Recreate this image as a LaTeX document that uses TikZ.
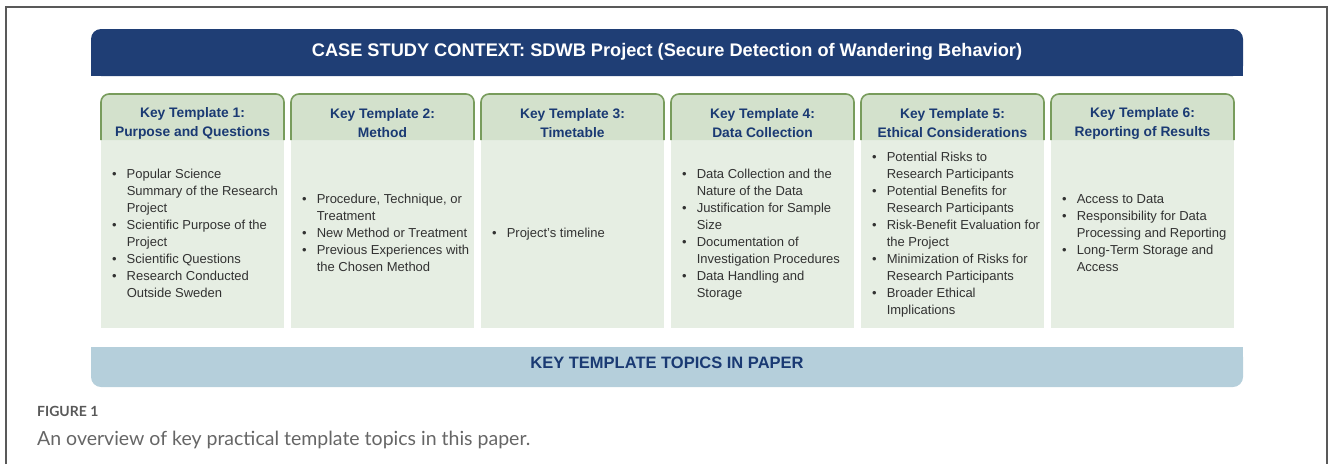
\documentclass[tikz,border=0pt]{standalone}
\usepackage{fontspec}
\setmainfont{Liberation Sans}
\newfontfamily\capfont{Lato}
\usepackage{tikz}

\definecolor{navy}{RGB}{31,62,117}
\definecolor{hdtext}{RGB}{26,58,115}
\definecolor{hdfill}{RGB}{211,225,204}
\definecolor{hdline}{RGB}{120,156,92}
\definecolor{bodyfill}{RGB}{230,238,227}
\definecolor{bandfill}{RGB}{181,207,219}
\definecolor{bodytext}{RGB}{50,50,50}

\newcommand{\pts}[1]{\begin{tabular}{@{}l@{\hspace{10pt}}l@{}}#1\end{tabular}}

\begin{document}
\begin{tikzpicture}[x=1pt,y=-1pt]
  \tikzstyle{title}=[text=white,font=\fontsize{18.2}{22}\selectfont\bfseries,anchor=base]
  \tikzstyle{band}=[text=hdtext,font=\fontsize{16.5}{20}\selectfont\bfseries,anchor=base]
  \tikzstyle{head}=[text=hdtext,align=center,font=\fontsize{13.8}{19}\selectfont\bfseries]
  \tikzstyle{items}=[text=bodytext,anchor=west,inner sep=0pt,font=\fontsize{13}{17}\selectfont]
  \useasboundingbox (0,0) rectangle (1330,464);
  % frame
  \draw[black!65,line width=1.3pt] (6,464) -- (6,7) -- (1327,7) -- (1327,464);
  % top banner
  \fill[navy,rounded corners=10pt] (91,29) rectangle (1243,76);
  \fill[navy] (91,55) rectangle (1243,76);
  \node[title] (ctx) at (667,56) {CASE STUDY CONTEXT: SDWB Project (Secure Detection of Wandering Behavior)};
  % columns
  \foreach \i in {0,...,5} {
    \fill[bodyfill] (101+190*\i,140) rectangle (284+190*\i,328);
    \draw[hdline,fill=hdfill,line width=1.6pt,rounded corners=8pt]
      (101+190*\i,140) -- (101+190*\i,94) -- (284+190*\i,94) -- (284+190*\i,140);
  }
  \node[head] (h1) at (192.5,123.5) {Key Template 1:\\Purpose and Questions};
  \node[head] (h2) at (382.5,123.5) {Key Template 2:\\Method};
  \node[head] (h3) at (572.5,123.5) {Key Template 3:\\Timetable};
  \node[head] (h4) at (762.5,123.5) {Key Template 4:\\Data Collection};
  \node[head] (h5) at (952.5,123.5) {Key Template 5:\\Ethical Considerations};
  \node[head] (h6) at (1142.5,123.5) {Key Template 6:\\Reporting of Results};

  \node[items] (b1) at (112,234.5) {\pts{\textbullet & Popular Science\\ & Summary of the Research\\ & Project\\
    \textbullet & Scientific Purpose of the\\ & Project\\ \textbullet & Scientific Questions\\
    \textbullet & Research Conducted\\ & Outside Sweden}};
  \node[items] (b2) at (302,234.5) {\pts{\textbullet & Procedure, Technique, or\\ & Treatment\\
    \textbullet & New Method or Treatment\\ \textbullet & Previous Experiences with\\ & the Chosen Method}};
  \node[items] (b3) at (492,234.5) {\pts{\textbullet & Project’s timeline}};
  \node[items] (b4) at (682,234.5) {\pts{\textbullet & Data Collection and the\\ & Nature of the Data\\
    \textbullet & Justification for Sample\\ & Size\\ \textbullet & Documentation of\\ & Investigation Procedures\\
    \textbullet & Data Handling and\\ & Storage}};
  \node[items] (b5) at (872,234.5) {\pts{\textbullet & Potential Risks to\\ & Research Participants\\
    \textbullet & Potential Benefits for\\ & Research Participants\\ \textbullet & Risk-Benefit Evaluation for\\ & the Project\\
    \textbullet & Minimization of Risks for\\ & Research Participants\\ \textbullet & Broader Ethical\\ & Implications}};
  \node[items] (b6) at (1062,234.5) {\pts{\textbullet & Access to Data\\ \textbullet & Responsibility for Data\\
    & Processing and Reporting\\ \textbullet & Long-Term Storage and\\ & Access}};
  % bottom band
  \fill[bandfill,rounded corners=10pt] (91,347) rectangle (1243,387);
  \fill[bandfill] (91,347) rectangle (1243,365);
  \node[band] (topics) at (667,368) {KEY TEMPLATE TOPICS IN PAPER};
  % caption
  \node[anchor=base west,inner sep=0pt,text=black!65,font=\capfont\fontsize{14}{16}\selectfont\bfseries] (fig) at (37,416) {FIGURE 1};
  \node[anchor=base west,inner sep=0pt,text=black!60,font=\capfont\fontsize{19.5}{22}\selectfont] (cap) at (37,445) {An overview of key practical template topics in this paper.};
\end{tikzpicture}
\end{document}
